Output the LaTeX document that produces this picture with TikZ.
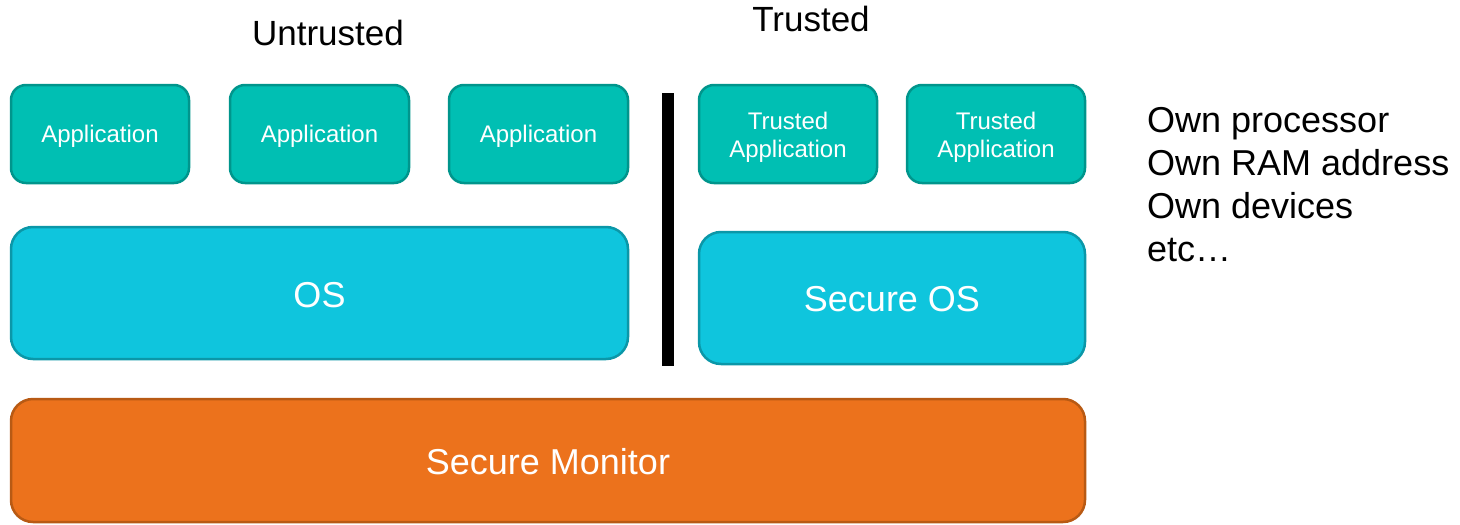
\documentclass[tikz,border=0pt]{standalone}
\usepackage{fontspec}
\setmainfont{Liberation Sans}
\definecolor{appfill}{HTML}{00BFB3}
\definecolor{appdraw}{HTML}{00958C}
\definecolor{osfill}{HTML}{0FC5DD}
\definecolor{osdraw}{HTML}{0B97A8}
\definecolor{monfill}{HTML}{EC721C}
\definecolor{mondraw}{HTML}{B85A14}
\tikzset{
  box/.style={rectangle, line width=2.5pt, text=white, align=center, inner sep=0pt, outer sep=0pt},
  appbox/.style={box, fill=appfill, draw=appdraw, rounded corners=15pt,
    minimum width=178pt, minimum height=98pt, font=\fontsize{24}{28}\selectfont,
    text height=17.2pt, text depth=0pt},
  twoline/.style={text height=45.2pt, text depth=0pt},
  osbox/.style={box, fill=osfill, draw=osdraw, rounded corners=22pt,
    minimum height=132pt},
  monbox/.style={box, fill=monfill, draw=mondraw, rounded corners=22pt,
    minimum height=123pt},
  lbl/.style={inner sep=0pt, text height=25.1pt, text depth=0pt, font=\fontsize{35}{42}\selectfont},
  boxlbl/.style={inner sep=0pt, text=white, text height=25.8pt, text depth=0pt, font=\fontsize{36}{43}\selectfont},
  side/.style={anchor=base west, inner sep=0pt, font=\fontsize{36}{43}\selectfont}
}
\begin{document}
\begin{tikzpicture}[x=1pt, y=-1pt]
\useasboundingbox (0,0) rectangle (1460,525);
% applications
\node[appbox] (a1) at (100,134) {Application};
\node[appbox, minimum width=179pt] (a2) at (319.5,134) {Application};
\node[appbox, minimum width=179pt] (a3) at (538.5,134) {Application};
\node[appbox] (t1) at (788,134) {};
\node[appbox, twoline, draw=none, fill=none] (t1t) at (788,135) {Trusted\\Application};
\node[appbox] (t2) at (996,134) {};
\node[appbox, twoline, draw=none, fill=none] (t2t) at (996,135) {Trusted\\Application};
% OS layers
\node[osbox, minimum width=617pt] (os) at (319.5,293) {};
\node[boxlbl] (ost) at (319.5,295) {OS};
\node[osbox, minimum width=386pt] (sos) at (892,298) {};
\node[boxlbl] (sost) at (892,299) {Secure OS};
% monitor
\node[monbox, minimum width=1074pt] (mon) at (548,460.5) {};
\node[boxlbl] (mont) at (548,462) {Secure Monitor};
% separator
\coordinate (sepTop) at (668,93);
\coordinate (sepBot) at (668,366);
\draw[line width=12pt] (sepTop) -- (sepBot);
% headings
\node[lbl] (untr) at (328,33) {Untrusted};
\node[lbl] (tr) at (811,19) {Trusted};
% side notes
\node[side] (r1) at (1147,132) {Own processor};
\node[side] (r2) at (1147,175) {Own RAM address};
\node[side] (r3) at (1147,218) {Own devices};
\node[side] (r4) at (1147,261) {etc…};
\end{tikzpicture}
\end{document}
